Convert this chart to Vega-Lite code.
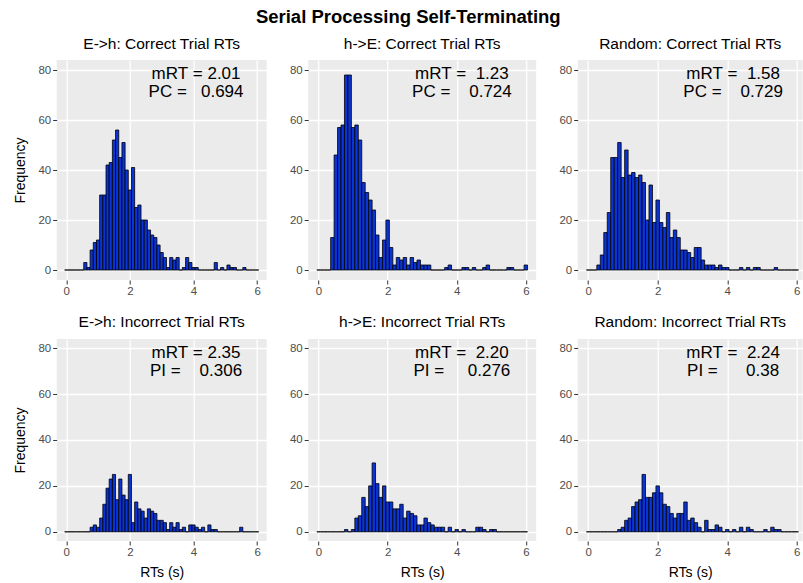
{
"$schema": "https://vega.github.io/schema/vega-lite/v6.json",
"padding": {"left": 13.7, "right": 0, "top": 8, "bottom": 0},
"title": {"text": "Serial Processing Self-Terminating", "fontSize": 18.5, "fontWeight": "bold", "anchor": "middle", "offset": 10, "font": "Liberation Sans", "color": "black"},
"datasets": {
"notes": [
{"p":1,"txt":"mRT\u00a0=\u00a02.01\nPC\u00a0=\u00a0\u00a0\u00a00.694"},
{"p":2,"txt":"mRT\u00a0=\u00a0\u00a01.23\nPC\u00a0=\u00a0\u00a0\u00a0\u00a00.724"},
{"p":3,"txt":"mRT\u00a0=\u00a0\u00a01.58\nPC\u00a0=\u00a0\u00a0\u00a0\u00a00.729"},
{"p":4,"txt":"mRT\u00a0=\u00a02.35\nPI\u00a0=\u00a0\u00a0\u00a0\u00a00.306"},
{"p":5,"txt":"mRT\u00a0=\u00a0\u00a02.20\nPI\u00a0=\u00a0\u00a0\u00a0\u00a0\u00a00.276"},
{"p":6,"txt":"mRT\u00a0=\u00a0\u00a02.24\nPI\u00a0=\u00a0\u00a0\u00a0\u00a0\u00a0\u00a00.38"}
],
"bins": [
{"p":1,"lo":-0.05,"hi":0.05,"n":0},{"p":1,"lo":0.05,"hi":0.15,"n":0},{"p":1,"lo":0.15,"hi":0.25,"n":0},{"p":1,"lo":0.25,"hi":0.35,"n":0},{"p":1,"lo":0.35,"hi":0.45,"n":0},{"p":1,"lo":0.45,"hi":0.55,"n":0},{"p":1,"lo":0.55,"hi":0.65,"n":3},{"p":1,"lo":0.65,"hi":0.75,"n":1},{"p":1,"lo":0.75,"hi":0.85,"n":8},{"p":1,"lo":0.85,"hi":0.95,"n":11},
{"p":1,"lo":0.95,"hi":1.05,"n":12},{"p":1,"lo":1.05,"hi":1.15,"n":30},{"p":1,"lo":1.15,"hi":1.25,"n":30},{"p":1,"lo":1.25,"hi":1.35,"n":42},{"p":1,"lo":1.35,"hi":1.45,"n":43},{"p":1,"lo":1.45,"hi":1.55,"n":52},{"p":1,"lo":1.55,"hi":1.65,"n":56},{"p":1,"lo":1.65,"hi":1.75,"n":45},{"p":1,"lo":1.75,"hi":1.85,"n":51},{"p":1,"lo":1.85,"hi":1.95,"n":40},
{"p":1,"lo":1.95,"hi":2.05,"n":32},{"p":1,"lo":2.05,"hi":2.15,"n":41},{"p":1,"lo":2.15,"hi":2.25,"n":25},{"p":1,"lo":2.25,"hi":2.35,"n":26},{"p":1,"lo":2.35,"hi":2.45,"n":20},{"p":1,"lo":2.45,"hi":2.55,"n":20},{"p":1,"lo":2.55,"hi":2.65,"n":16},{"p":1,"lo":2.65,"hi":2.75,"n":14},{"p":1,"lo":2.75,"hi":2.85,"n":13},{"p":1,"lo":2.85,"hi":2.95,"n":10},
{"p":1,"lo":2.95,"hi":3.05,"n":7},{"p":1,"lo":3.05,"hi":3.15,"n":5},{"p":1,"lo":3.15,"hi":3.25,"n":1},{"p":1,"lo":3.25,"hi":3.35,"n":5},{"p":1,"lo":3.35,"hi":3.45,"n":4},{"p":1,"lo":3.45,"hi":3.55,"n":5},{"p":1,"lo":3.55,"hi":3.65,"n":0},{"p":1,"lo":3.65,"hi":3.75,"n":1},{"p":1,"lo":3.75,"hi":3.85,"n":5},{"p":1,"lo":3.85,"hi":3.95,"n":3},
{"p":1,"lo":3.95,"hi":4.05,"n":1},{"p":1,"lo":4.05,"hi":4.15,"n":1},{"p":1,"lo":4.15,"hi":4.25,"n":0},{"p":1,"lo":4.25,"hi":4.35,"n":0},{"p":1,"lo":4.35,"hi":4.45,"n":0},{"p":1,"lo":4.45,"hi":4.55,"n":0},{"p":1,"lo":4.55,"hi":4.65,"n":0},{"p":1,"lo":4.65,"hi":4.75,"n":3},{"p":1,"lo":4.75,"hi":4.85,"n":0},{"p":1,"lo":4.85,"hi":4.95,"n":1},
{"p":1,"lo":4.95,"hi":5.05,"n":0},{"p":1,"lo":5.05,"hi":5.15,"n":2},{"p":1,"lo":5.15,"hi":5.25,"n":1},{"p":1,"lo":5.25,"hi":5.35,"n":1},{"p":1,"lo":5.35,"hi":5.45,"n":0},{"p":1,"lo":5.45,"hi":5.55,"n":0},{"p":1,"lo":5.55,"hi":5.65,"n":1},{"p":1,"lo":5.65,"hi":5.75,"n":0},{"p":1,"lo":5.75,"hi":5.85,"n":0},{"p":1,"lo":5.85,"hi":5.95,"n":0},
{"p":1,"lo":5.95,"hi":6.05,"n":0},

{"p":2,"lo":-0.05,"hi":0.05,"n":0},{"p":2,"lo":0.05,"hi":0.15,"n":0},{"p":2,"lo":0.15,"hi":0.25,"n":0},{"p":2,"lo":0.25,"hi":0.35,"n":0},{"p":2,"lo":0.35,"hi":0.45,"n":13},{"p":2,"lo":0.45,"hi":0.55,"n":46},{"p":2,"lo":0.55,"hi":0.65,"n":57},{"p":2,"lo":0.65,"hi":0.75,"n":58},{"p":2,"lo":0.75,"hi":0.85,"n":78},{"p":2,"lo":0.85,"hi":0.95,"n":78},
{"p":2,"lo":0.95,"hi":1.05,"n":57},{"p":2,"lo":1.05,"hi":1.15,"n":58},{"p":2,"lo":1.15,"hi":1.25,"n":52},{"p":2,"lo":1.25,"hi":1.35,"n":35},{"p":2,"lo":1.35,"hi":1.45,"n":31},{"p":2,"lo":1.45,"hi":1.55,"n":28},{"p":2,"lo":1.55,"hi":1.65,"n":24},{"p":2,"lo":1.65,"hi":1.75,"n":14},{"p":2,"lo":1.75,"hi":1.85,"n":5},{"p":2,"lo":1.85,"hi":1.95,"n":12},
{"p":2,"lo":1.95,"hi":2.05,"n":20},{"p":2,"lo":2.05,"hi":2.15,"n":9},{"p":2,"lo":2.15,"hi":2.25,"n":2},{"p":2,"lo":2.25,"hi":2.35,"n":5},{"p":2,"lo":2.35,"hi":2.45,"n":4},{"p":2,"lo":2.45,"hi":2.55,"n":5},{"p":2,"lo":2.55,"hi":2.65,"n":2},{"p":2,"lo":2.65,"hi":2.75,"n":5},{"p":2,"lo":2.75,"hi":2.85,"n":3},{"p":2,"lo":2.85,"hi":2.95,"n":4},
{"p":2,"lo":2.95,"hi":3.05,"n":2},{"p":2,"lo":3.05,"hi":3.15,"n":2},{"p":2,"lo":3.15,"hi":3.25,"n":2},{"p":2,"lo":3.25,"hi":3.35,"n":0},{"p":2,"lo":3.35,"hi":3.45,"n":0},{"p":2,"lo":3.45,"hi":3.55,"n":0},{"p":2,"lo":3.55,"hi":3.65,"n":0},{"p":2,"lo":3.65,"hi":3.75,"n":1},{"p":2,"lo":3.75,"hi":3.85,"n":2},{"p":2,"lo":3.85,"hi":3.95,"n":0},
{"p":2,"lo":3.95,"hi":4.05,"n":0},{"p":2,"lo":4.05,"hi":4.15,"n":0},{"p":2,"lo":4.15,"hi":4.25,"n":1},{"p":2,"lo":4.25,"hi":4.35,"n":1},{"p":2,"lo":4.35,"hi":4.45,"n":0},{"p":2,"lo":4.45,"hi":4.55,"n":1},{"p":2,"lo":4.55,"hi":4.65,"n":0},{"p":2,"lo":4.65,"hi":4.75,"n":0},{"p":2,"lo":4.75,"hi":4.85,"n":1},{"p":2,"lo":4.85,"hi":4.95,"n":2},
{"p":2,"lo":4.95,"hi":5.05,"n":0},{"p":2,"lo":5.05,"hi":5.15,"n":0},{"p":2,"lo":5.15,"hi":5.25,"n":0},{"p":2,"lo":5.25,"hi":5.35,"n":0},{"p":2,"lo":5.35,"hi":5.45,"n":0},{"p":2,"lo":5.45,"hi":5.55,"n":1},{"p":2,"lo":5.55,"hi":5.65,"n":1},{"p":2,"lo":5.65,"hi":5.75,"n":0},{"p":2,"lo":5.75,"hi":5.85,"n":0},{"p":2,"lo":5.85,"hi":5.95,"n":0},
{"p":2,"lo":5.95,"hi":6.05,"n":2},

{"p":3,"lo":-0.05,"hi":0.05,"n":0},{"p":3,"lo":0.05,"hi":0.15,"n":0},{"p":3,"lo":0.15,"hi":0.25,"n":0},{"p":3,"lo":0.25,"hi":0.35,"n":2},{"p":3,"lo":0.35,"hi":0.45,"n":6},{"p":3,"lo":0.45,"hi":0.55,"n":15},{"p":3,"lo":0.55,"hi":0.65,"n":23},{"p":3,"lo":0.65,"hi":0.75,"n":45},{"p":3,"lo":0.75,"hi":0.85,"n":45},{"p":3,"lo":0.85,"hi":0.95,"n":51},
{"p":3,"lo":0.95,"hi":1.05,"n":37},{"p":3,"lo":1.05,"hi":1.15,"n":48},{"p":3,"lo":1.15,"hi":1.25,"n":38},{"p":3,"lo":1.25,"hi":1.35,"n":39},{"p":3,"lo":1.35,"hi":1.45,"n":37},{"p":3,"lo":1.45,"hi":1.55,"n":38},{"p":3,"lo":1.55,"hi":1.65,"n":35},{"p":3,"lo":1.65,"hi":1.75,"n":20},{"p":3,"lo":1.75,"hi":1.85,"n":34},{"p":3,"lo":1.85,"hi":1.95,"n":19},
{"p":3,"lo":1.95,"hi":2.05,"n":28},{"p":3,"lo":2.05,"hi":2.15,"n":19},{"p":3,"lo":2.15,"hi":2.25,"n":17},{"p":3,"lo":2.25,"hi":2.35,"n":23},{"p":3,"lo":2.35,"hi":2.45,"n":13},{"p":3,"lo":2.45,"hi":2.55,"n":16},{"p":3,"lo":2.55,"hi":2.65,"n":13},{"p":3,"lo":2.65,"hi":2.75,"n":8},{"p":3,"lo":2.75,"hi":2.85,"n":8},{"p":3,"lo":2.85,"hi":2.95,"n":7},
{"p":3,"lo":2.95,"hi":3.05,"n":5},{"p":3,"lo":3.05,"hi":3.15,"n":9},{"p":3,"lo":3.15,"hi":3.25,"n":9},{"p":3,"lo":3.25,"hi":3.35,"n":4},{"p":3,"lo":3.35,"hi":3.45,"n":2},{"p":3,"lo":3.45,"hi":3.55,"n":2},{"p":3,"lo":3.55,"hi":3.65,"n":2},{"p":3,"lo":3.65,"hi":3.75,"n":1},{"p":3,"lo":3.75,"hi":3.85,"n":2},{"p":3,"lo":3.85,"hi":3.95,"n":1},
{"p":3,"lo":3.95,"hi":4.05,"n":1},{"p":3,"lo":4.05,"hi":4.15,"n":0},{"p":3,"lo":4.15,"hi":4.25,"n":0},{"p":3,"lo":4.25,"hi":4.35,"n":0},{"p":3,"lo":4.35,"hi":4.45,"n":1},{"p":3,"lo":4.45,"hi":4.55,"n":0},{"p":3,"lo":4.55,"hi":4.65,"n":1},{"p":3,"lo":4.65,"hi":4.75,"n":0},{"p":3,"lo":4.75,"hi":4.85,"n":1},{"p":3,"lo":4.85,"hi":4.95,"n":1},
{"p":3,"lo":4.95,"hi":5.05,"n":0},{"p":3,"lo":5.05,"hi":5.15,"n":0},{"p":3,"lo":5.15,"hi":5.25,"n":0},{"p":3,"lo":5.25,"hi":5.35,"n":0},{"p":3,"lo":5.35,"hi":5.45,"n":1},{"p":3,"lo":5.45,"hi":5.55,"n":0},{"p":3,"lo":5.55,"hi":5.65,"n":0},{"p":3,"lo":5.65,"hi":5.75,"n":0},{"p":3,"lo":5.75,"hi":5.85,"n":0},{"p":3,"lo":5.85,"hi":5.95,"n":0},
{"p":3,"lo":5.95,"hi":6.05,"n":0},

{"p":4,"lo":-0.05,"hi":0.05,"n":0},{"p":4,"lo":0.05,"hi":0.15,"n":0},{"p":4,"lo":0.15,"hi":0.25,"n":0},{"p":4,"lo":0.25,"hi":0.35,"n":0},{"p":4,"lo":0.35,"hi":0.45,"n":0},{"p":4,"lo":0.45,"hi":0.55,"n":0},{"p":4,"lo":0.55,"hi":0.65,"n":0},{"p":4,"lo":0.65,"hi":0.75,"n":0},{"p":4,"lo":0.75,"hi":0.85,"n":2},{"p":4,"lo":0.85,"hi":0.95,"n":3},
{"p":4,"lo":0.95,"hi":1.05,"n":2},{"p":4,"lo":1.05,"hi":1.15,"n":6},{"p":4,"lo":1.15,"hi":1.25,"n":12},{"p":4,"lo":1.25,"hi":1.35,"n":19},{"p":4,"lo":1.35,"hi":1.45,"n":23},{"p":4,"lo":1.45,"hi":1.55,"n":25},{"p":4,"lo":1.55,"hi":1.65,"n":14},{"p":4,"lo":1.65,"hi":1.75,"n":23},{"p":4,"lo":1.75,"hi":1.85,"n":16},{"p":4,"lo":1.85,"hi":1.95,"n":14},
{"p":4,"lo":1.95,"hi":2.05,"n":25},{"p":4,"lo":2.05,"hi":2.15,"n":4},{"p":4,"lo":2.15,"hi":2.25,"n":13},{"p":4,"lo":2.25,"hi":2.35,"n":10},{"p":4,"lo":2.35,"hi":2.45,"n":9},{"p":4,"lo":2.45,"hi":2.55,"n":6},{"p":4,"lo":2.55,"hi":2.65,"n":10},{"p":4,"lo":2.65,"hi":2.75,"n":9},{"p":4,"lo":2.75,"hi":2.85,"n":8},{"p":4,"lo":2.85,"hi":2.95,"n":5},
{"p":4,"lo":2.95,"hi":3.05,"n":5},{"p":4,"lo":3.05,"hi":3.15,"n":4},{"p":4,"lo":3.15,"hi":3.25,"n":1},{"p":4,"lo":3.25,"hi":3.35,"n":4},{"p":4,"lo":3.35,"hi":3.45,"n":2},{"p":4,"lo":3.45,"hi":3.55,"n":4},{"p":4,"lo":3.55,"hi":3.65,"n":1},{"p":4,"lo":3.65,"hi":3.75,"n":2},{"p":4,"lo":3.75,"hi":3.85,"n":0},{"p":4,"lo":3.85,"hi":3.95,"n":3},
{"p":4,"lo":3.95,"hi":4.05,"n":3},{"p":4,"lo":4.05,"hi":4.15,"n":2},{"p":4,"lo":4.15,"hi":4.25,"n":1},{"p":4,"lo":4.25,"hi":4.35,"n":2},{"p":4,"lo":4.35,"hi":4.45,"n":0},{"p":4,"lo":4.45,"hi":4.55,"n":3},{"p":4,"lo":4.55,"hi":4.65,"n":1},{"p":4,"lo":4.65,"hi":4.75,"n":1},{"p":4,"lo":4.75,"hi":4.85,"n":0},{"p":4,"lo":4.85,"hi":4.95,"n":0},
{"p":4,"lo":4.95,"hi":5.05,"n":0},{"p":4,"lo":5.05,"hi":5.15,"n":0},{"p":4,"lo":5.15,"hi":5.25,"n":0},{"p":4,"lo":5.25,"hi":5.35,"n":0},{"p":4,"lo":5.35,"hi":5.45,"n":0},{"p":4,"lo":5.45,"hi":5.55,"n":2},{"p":4,"lo":5.55,"hi":5.65,"n":0},{"p":4,"lo":5.65,"hi":5.75,"n":0},{"p":4,"lo":5.75,"hi":5.85,"n":0},{"p":4,"lo":5.85,"hi":5.95,"n":0},
{"p":4,"lo":5.95,"hi":6.05,"n":0},

{"p":5,"lo":-0.05,"hi":0.05,"n":0},{"p":5,"lo":0.05,"hi":0.15,"n":0},{"p":5,"lo":0.15,"hi":0.25,"n":0},{"p":5,"lo":0.25,"hi":0.35,"n":0},{"p":5,"lo":0.35,"hi":0.45,"n":0},{"p":5,"lo":0.45,"hi":0.55,"n":0},{"p":5,"lo":0.55,"hi":0.65,"n":0},{"p":5,"lo":0.65,"hi":0.75,"n":0},{"p":5,"lo":0.75,"hi":0.85,"n":1},{"p":5,"lo":0.85,"hi":0.95,"n":0},
{"p":5,"lo":0.95,"hi":1.05,"n":1},{"p":5,"lo":1.05,"hi":1.15,"n":6},{"p":5,"lo":1.15,"hi":1.25,"n":7},{"p":5,"lo":1.25,"hi":1.35,"n":15},{"p":5,"lo":1.35,"hi":1.45,"n":11},{"p":5,"lo":1.45,"hi":1.55,"n":20},{"p":5,"lo":1.55,"hi":1.65,"n":30},{"p":5,"lo":1.65,"hi":1.75,"n":21},{"p":5,"lo":1.75,"hi":1.85,"n":15},{"p":5,"lo":1.85,"hi":1.95,"n":20},
{"p":5,"lo":1.95,"hi":2.05,"n":13},{"p":5,"lo":2.05,"hi":2.15,"n":13},{"p":5,"lo":2.15,"hi":2.25,"n":10},{"p":5,"lo":2.25,"hi":2.35,"n":10},{"p":5,"lo":2.35,"hi":2.45,"n":12},{"p":5,"lo":2.45,"hi":2.55,"n":6},{"p":5,"lo":2.55,"hi":2.65,"n":9},{"p":5,"lo":2.65,"hi":2.75,"n":8},{"p":5,"lo":2.75,"hi":2.85,"n":7},{"p":5,"lo":2.85,"hi":2.95,"n":3},
{"p":5,"lo":2.95,"hi":3.05,"n":3},{"p":5,"lo":3.05,"hi":3.15,"n":6},{"p":5,"lo":3.15,"hi":3.25,"n":4},{"p":5,"lo":3.25,"hi":3.35,"n":3},{"p":5,"lo":3.35,"hi":3.45,"n":2},{"p":5,"lo":3.45,"hi":3.55,"n":2},{"p":5,"lo":3.55,"hi":3.65,"n":2},{"p":5,"lo":3.65,"hi":3.75,"n":0},{"p":5,"lo":3.75,"hi":3.85,"n":2},{"p":5,"lo":3.85,"hi":3.95,"n":0},
{"p":5,"lo":3.95,"hi":4.05,"n":1},{"p":5,"lo":4.05,"hi":4.15,"n":0},{"p":5,"lo":4.15,"hi":4.25,"n":1},{"p":5,"lo":4.25,"hi":4.35,"n":0},{"p":5,"lo":4.35,"hi":4.45,"n":0},{"p":5,"lo":4.45,"hi":4.55,"n":0},{"p":5,"lo":4.55,"hi":4.65,"n":2},{"p":5,"lo":4.65,"hi":4.75,"n":2},{"p":5,"lo":4.75,"hi":4.85,"n":1},{"p":5,"lo":4.85,"hi":4.95,"n":0},
{"p":5,"lo":4.95,"hi":5.05,"n":1},{"p":5,"lo":5.05,"hi":5.15,"n":1},{"p":5,"lo":5.15,"hi":5.25,"n":0},{"p":5,"lo":5.25,"hi":5.35,"n":0},{"p":5,"lo":5.35,"hi":5.45,"n":0},{"p":5,"lo":5.45,"hi":5.55,"n":0},{"p":5,"lo":5.55,"hi":5.65,"n":0},{"p":5,"lo":5.65,"hi":5.75,"n":0},{"p":5,"lo":5.75,"hi":5.85,"n":0},{"p":5,"lo":5.85,"hi":5.95,"n":0},
{"p":5,"lo":5.95,"hi":6.05,"n":0},

{"p":6,"lo":-0.05,"hi":0.05,"n":0},{"p":6,"lo":0.05,"hi":0.15,"n":0},{"p":6,"lo":0.15,"hi":0.25,"n":0},{"p":6,"lo":0.25,"hi":0.35,"n":0},{"p":6,"lo":0.35,"hi":0.45,"n":0},{"p":6,"lo":0.45,"hi":0.55,"n":0},{"p":6,"lo":0.55,"hi":0.65,"n":0},{"p":6,"lo":0.65,"hi":0.75,"n":0},{"p":6,"lo":0.75,"hi":0.85,"n":0},{"p":6,"lo":0.85,"hi":0.95,"n":1},
{"p":6,"lo":0.95,"hi":1.05,"n":2},{"p":6,"lo":1.05,"hi":1.15,"n":5},{"p":6,"lo":1.15,"hi":1.25,"n":6},{"p":6,"lo":1.25,"hi":1.35,"n":11},{"p":6,"lo":1.35,"hi":1.45,"n":13},{"p":6,"lo":1.45,"hi":1.55,"n":14},{"p":6,"lo":1.55,"hi":1.65,"n":25},{"p":6,"lo":1.65,"hi":1.75,"n":15},{"p":6,"lo":1.75,"hi":1.85,"n":15},{"p":6,"lo":1.85,"hi":1.95,"n":17},
{"p":6,"lo":1.95,"hi":2.05,"n":20},{"p":6,"lo":2.05,"hi":2.15,"n":17},{"p":6,"lo":2.15,"hi":2.25,"n":12},{"p":6,"lo":2.25,"hi":2.35,"n":11},{"p":6,"lo":2.35,"hi":2.45,"n":8},{"p":6,"lo":2.45,"hi":2.55,"n":6},{"p":6,"lo":2.55,"hi":2.65,"n":8},{"p":6,"lo":2.65,"hi":2.75,"n":8},{"p":6,"lo":2.75,"hi":2.85,"n":13},{"p":6,"lo":2.85,"hi":2.95,"n":5},
{"p":6,"lo":2.95,"hi":3.05,"n":6},{"p":6,"lo":3.05,"hi":3.15,"n":4},{"p":6,"lo":3.15,"hi":3.25,"n":2},{"p":6,"lo":3.25,"hi":3.35,"n":0},{"p":6,"lo":3.35,"hi":3.45,"n":5},{"p":6,"lo":3.45,"hi":3.55,"n":1},{"p":6,"lo":3.55,"hi":3.65,"n":1},{"p":6,"lo":3.65,"hi":3.75,"n":3},{"p":6,"lo":3.75,"hi":3.85,"n":2},{"p":6,"lo":3.85,"hi":3.95,"n":0},
{"p":6,"lo":3.95,"hi":4.05,"n":1},{"p":6,"lo":4.05,"hi":4.15,"n":0},{"p":6,"lo":4.15,"hi":4.25,"n":1},{"p":6,"lo":4.25,"hi":4.35,"n":0},{"p":6,"lo":4.35,"hi":4.45,"n":2},{"p":6,"lo":4.45,"hi":4.55,"n":0},{"p":6,"lo":4.55,"hi":4.65,"n":2},{"p":6,"lo":4.65,"hi":4.75,"n":1},{"p":6,"lo":4.75,"hi":4.85,"n":0},{"p":6,"lo":4.85,"hi":4.95,"n":0},
{"p":6,"lo":4.95,"hi":5.05,"n":0},{"p":6,"lo":5.05,"hi":5.15,"n":1},{"p":6,"lo":5.15,"hi":5.25,"n":0},{"p":6,"lo":5.25,"hi":5.35,"n":2},{"p":6,"lo":5.35,"hi":5.45,"n":1},{"p":6,"lo":5.45,"hi":5.55,"n":1},{"p":6,"lo":5.55,"hi":5.65,"n":0},{"p":6,"lo":5.65,"hi":5.75,"n":0},{"p":6,"lo":5.75,"hi":5.85,"n":0},{"p":6,"lo":5.85,"hi":5.95,"n":0},
{"p":6,"lo":5.95,"hi":6.05,"n":0}
]
},
"vconcat": [
{"hconcat": [
{"width": 210, "height": 220, "title": "E->h: Correct Trial RTs",
 "layer": [
  {"data": {"name": "bins"}, "transform": [{"filter": "datum.p === 1"}],
   "mark": {"type": "rect", "fill": "#0a34d4", "stroke": "black", "strokeWidth": 0.8},
   "encoding": {
    "x": {"field": "lo", "type": "quantitative", "scale": {"domain": [-0.3, 6.3], "nice": false, "zero": false},
      "axis": {"title": null, "values": [0,1,2,3,4,5,6], "labelExpr": "datum.value % 2 === 0 ? datum.label : ''", "tickOpacity": {"condition": {"test": "datum.value % 2 === 0", "value": 1}, "value": 0}, "gridWidth": {"condition": {"test": "datum.value % 2 === 0", "value": 1.3}, "value": 0.6}}},
    "x2": {"field": "hi"},
    "y": {"field": "n", "type": "quantitative", "scale": {"domain": [-4, 84], "nice": false, "zero": false},
      "axis": {"title": "Frequency", "values": [0,10,20,30,40,50,60,70,80], "labelExpr": "datum.value % 20 === 0 ? datum.label : ''", "tickOpacity": {"condition": {"test": "datum.value % 20 === 0", "value": 1}, "value": 0}, "gridWidth": {"condition": {"test": "datum.value % 20 === 0", "value": 1.3}, "value": 0.6}}},
    "y2": {"datum": 0}}},
  {"data": {"name": "notes"}, "transform": [{"filter": "datum.p === 1"}],
   "mark": {"type": "text", "fontSize": 17, "lineBreak": "\n", "lineHeight": 18, "align": "center", "baseline": "middle", "font": "Liberation Sans", "color": "black"},
   "encoding": {"x": {"datum": 4.08}, "y": {"datum": 78.5}, "text": {"field": "txt"}}}
 ]},
{"width": 228, "height": 220, "title": "h->E: Correct Trial RTs",
 "layer": [
  {"data": {"name": "bins"}, "transform": [{"filter": "datum.p === 2"}],
   "mark": {"type": "rect", "fill": "#0a34d4", "stroke": "black", "strokeWidth": 0.8},
   "encoding": {
    "x": {"field": "lo", "type": "quantitative", "scale": {"domain": [-0.3, 6.3], "nice": false, "zero": false},
      "axis": {"title": null, "values": [0,1,2,3,4,5,6], "labelExpr": "datum.value % 2 === 0 ? datum.label : ''", "tickOpacity": {"condition": {"test": "datum.value % 2 === 0", "value": 1}, "value": 0}, "gridWidth": {"condition": {"test": "datum.value % 2 === 0", "value": 1.3}, "value": 0.6}}},
    "x2": {"field": "hi"},
    "y": {"field": "n", "type": "quantitative", "scale": {"domain": [-4, 84], "nice": false, "zero": false},
      "axis": {"title": null, "values": [0,10,20,30,40,50,60,70,80], "labelExpr": "datum.value % 20 === 0 ? datum.label : ''", "tickOpacity": {"condition": {"test": "datum.value % 20 === 0", "value": 1}, "value": 0}, "gridWidth": {"condition": {"test": "datum.value % 20 === 0", "value": 1.3}, "value": 0.6}}},
    "y2": {"datum": 0}}},
  {"data": {"name": "notes"}, "transform": [{"filter": "datum.p === 2"}],
   "mark": {"type": "text", "fontSize": 17, "lineBreak": "\n", "lineHeight": 18, "align": "center", "baseline": "middle", "font": "Liberation Sans", "color": "black"},
   "encoding": {"x": {"datum": 4.15}, "y": {"datum": 78.5}, "text": {"field": "txt"}}}
 ]},
{"width": 225, "height": 220, "title": "Random: Correct Trial RTs",
 "layer": [
  {"data": {"name": "bins"}, "transform": [{"filter": "datum.p === 3"}],
   "mark": {"type": "rect", "fill": "#0a34d4", "stroke": "black", "strokeWidth": 0.8},
   "encoding": {
    "x": {"field": "lo", "type": "quantitative", "scale": {"domain": [-0.3, 6.17], "nice": false, "zero": false},
      "axis": {"title": null, "values": [0,1,2,3,4,5,6], "labelExpr": "datum.value % 2 === 0 ? datum.label : ''", "tickOpacity": {"condition": {"test": "datum.value % 2 === 0", "value": 1}, "value": 0}, "gridWidth": {"condition": {"test": "datum.value % 2 === 0", "value": 1.3}, "value": 0.6}}},
    "x2": {"field": "hi"},
    "y": {"field": "n", "type": "quantitative", "scale": {"domain": [-4, 84], "nice": false, "zero": false},
      "axis": {"title": null, "values": [0,10,20,30,40,50,60,70,80], "labelExpr": "datum.value % 20 === 0 ? datum.label : ''", "tickOpacity": {"condition": {"test": "datum.value % 20 === 0", "value": 1}, "value": 0}, "gridWidth": {"condition": {"test": "datum.value % 20 === 0", "value": 1.3}, "value": 0.6}}},
    "y2": {"datum": 0}}},
  {"data": {"name": "notes"}, "transform": [{"filter": "datum.p === 3"}],
   "mark": {"type": "text", "fontSize": 17, "lineBreak": "\n", "lineHeight": 18, "align": "center", "baseline": "middle", "font": "Liberation Sans", "color": "black"},
   "encoding": {"x": {"datum": 4.17}, "y": {"datum": 78.5}, "text": {"field": "txt"}}}
 ]}
]},
{"hconcat": [
{"width": 210, "height": 202, "title": "E->h: Incorrect Trial RTs",
 "layer": [
  {"data": {"name": "bins"}, "transform": [{"filter": "datum.p === 4"}],
   "mark": {"type": "rect", "fill": "#0a34d4", "stroke": "black", "strokeWidth": 0.8},
   "encoding": {
    "x": {"field": "lo", "type": "quantitative", "scale": {"domain": [-0.3, 6.3], "nice": false, "zero": false},
      "axis": {"title": "RTs (s)", "values": [0,1,2,3,4,5,6], "labelExpr": "datum.value % 2 === 0 ? datum.label : ''", "tickOpacity": {"condition": {"test": "datum.value % 2 === 0", "value": 1}, "value": 0}, "gridWidth": {"condition": {"test": "datum.value % 2 === 0", "value": 1.3}, "value": 0.6}}},
    "x2": {"field": "hi"},
    "y": {"field": "n", "type": "quantitative", "scale": {"domain": [-4, 84], "nice": false, "zero": false},
      "axis": {"title": "Frequency", "values": [0,10,20,30,40,50,60,70,80], "labelExpr": "datum.value % 20 === 0 ? datum.label : ''", "tickOpacity": {"condition": {"test": "datum.value % 20 === 0", "value": 1}, "value": 0}, "gridWidth": {"condition": {"test": "datum.value % 20 === 0", "value": 1.3}, "value": 0.6}}},
    "y2": {"datum": 0}}},
  {"data": {"name": "notes"}, "transform": [{"filter": "datum.p === 4"}],
   "mark": {"type": "text", "fontSize": 17, "lineBreak": "\n", "lineHeight": 18, "align": "center", "baseline": "middle", "font": "Liberation Sans", "color": "black"},
   "encoding": {"x": {"datum": 4.08}, "y": {"datum": 78}, "text": {"field": "txt"}}}
 ]},
{"width": 228, "height": 202, "title": "h->E: Incorrect Trial RTs",
 "layer": [
  {"data": {"name": "bins"}, "transform": [{"filter": "datum.p === 5"}],
   "mark": {"type": "rect", "fill": "#0a34d4", "stroke": "black", "strokeWidth": 0.8},
   "encoding": {
    "x": {"field": "lo", "type": "quantitative", "scale": {"domain": [-0.3, 6.3], "nice": false, "zero": false},
      "axis": {"title": "RTs (s)", "values": [0,1,2,3,4,5,6], "labelExpr": "datum.value % 2 === 0 ? datum.label : ''", "tickOpacity": {"condition": {"test": "datum.value % 2 === 0", "value": 1}, "value": 0}, "gridWidth": {"condition": {"test": "datum.value % 2 === 0", "value": 1.3}, "value": 0.6}}},
    "x2": {"field": "hi"},
    "y": {"field": "n", "type": "quantitative", "scale": {"domain": [-4, 84], "nice": false, "zero": false},
      "axis": {"title": null, "values": [0,10,20,30,40,50,60,70,80], "labelExpr": "datum.value % 20 === 0 ? datum.label : ''", "tickOpacity": {"condition": {"test": "datum.value % 20 === 0", "value": 1}, "value": 0}, "gridWidth": {"condition": {"test": "datum.value % 20 === 0", "value": 1.3}, "value": 0.6}}},
    "y2": {"datum": 0}}},
  {"data": {"name": "notes"}, "transform": [{"filter": "datum.p === 5"}],
   "mark": {"type": "text", "fontSize": 17, "lineBreak": "\n", "lineHeight": 18, "align": "center", "baseline": "middle", "font": "Liberation Sans", "color": "black"},
   "encoding": {"x": {"datum": 4.15}, "y": {"datum": 78}, "text": {"field": "txt"}}}
 ]},
{"width": 225, "height": 202, "title": "Random: Incorrect Trial RTs",
 "layer": [
  {"data": {"name": "bins"}, "transform": [{"filter": "datum.p === 6"}],
   "mark": {"type": "rect", "fill": "#0a34d4", "stroke": "black", "strokeWidth": 0.8},
   "encoding": {
    "x": {"field": "lo", "type": "quantitative", "scale": {"domain": [-0.3, 6.17], "nice": false, "zero": false},
      "axis": {"title": "RTs (s)", "values": [0,1,2,3,4,5,6], "labelExpr": "datum.value % 2 === 0 ? datum.label : ''", "tickOpacity": {"condition": {"test": "datum.value % 2 === 0", "value": 1}, "value": 0}, "gridWidth": {"condition": {"test": "datum.value % 2 === 0", "value": 1.3}, "value": 0.6}}},
    "x2": {"field": "hi"},
    "y": {"field": "n", "type": "quantitative", "scale": {"domain": [-4, 84], "nice": false, "zero": false},
      "axis": {"title": null, "values": [0,10,20,30,40,50,60,70,80], "labelExpr": "datum.value % 20 === 0 ? datum.label : ''", "tickOpacity": {"condition": {"test": "datum.value % 20 === 0", "value": 1}, "value": 0}, "gridWidth": {"condition": {"test": "datum.value % 20 === 0", "value": 1.3}, "value": 0.6}}},
    "y2": {"datum": 0}}},
  {"data": {"name": "notes"}, "transform": [{"filter": "datum.p === 6"}],
   "mark": {"type": "text", "fontSize": 17, "lineBreak": "\n", "lineHeight": 18, "align": "center", "baseline": "middle", "font": "Liberation Sans", "color": "black"},
   "encoding": {"x": {"datum": 4.17}, "y": {"datum": 78}, "text": {"field": "txt"}}}
 ]}
]}
],
"spacing": 17,
"config": {
 "font": "Liberation Sans",
 "concat": {"spacing": 22.5},
 "view": {"fill": "#EBEBEB", "stroke": null},
 "title": {"fontSize": 15.5, "fontWeight": "normal", "font": "Liberation Sans", "color": "black", "offset": 8},
 "axis": {"domain": false, "grid": true, "gridColor": "white", "tickColor": "#333333", "tickSize": 4, "labelColor": "#4D4D4D", "labelFontSize": 11.5, "labelFont": "Liberation Sans", "labelPadding": 2, "labelOverlap": false, "labelFlush": false, "titleFont": "Liberation Sans", "titleFontSize": 14, "titleFontWeight": "normal", "titleColor": "black"},
 "axisY": {"titlePadding": 10},
 "axisX": {"titlePadding": 7}
}
}
